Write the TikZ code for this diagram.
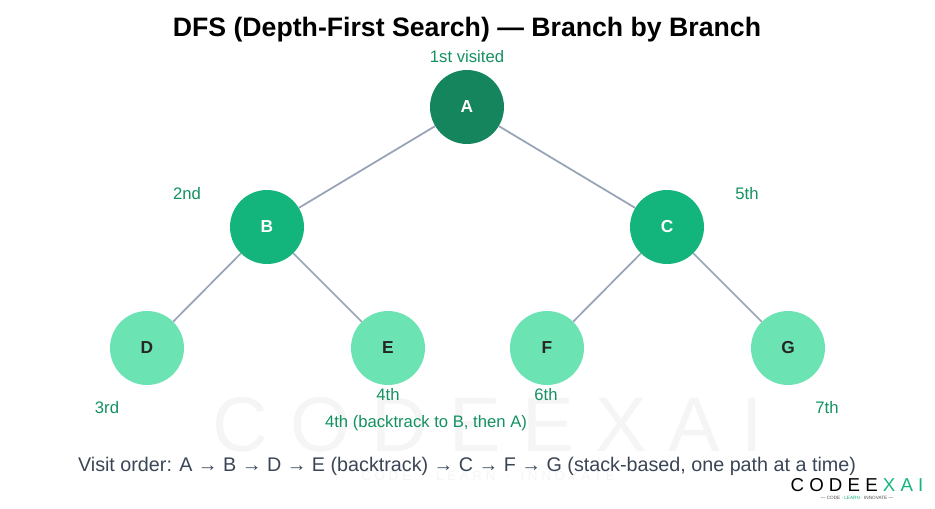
\documentclass[tikz,border=0pt]{standalone}
\usepackage{fontspec}
\setmainfont{Liberation Sans}
\usepackage{tikz}
\usetikzlibrary{positioning}
\definecolor{rootgreen}{HTML}{14855C}
\definecolor{midgreen}{HTML}{13B57D}
\definecolor{leafgreen}{HTML}{6BE3B3}
\definecolor{labgreen}{HTML}{139160}
\definecolor{edgegray}{HTML}{97A3B6}
\definecolor{textgray}{HTML}{3A4556}
\begin{document}
\begin{tikzpicture}[x=0.75pt,y=-0.75pt,
	vertex/.style={circle, minimum size=55.5pt, inner sep=0pt, font=\bfseries\fontsize{13}{15}\selectfont},
	root/.style={vertex, fill=rootgreen, text=white},
	mid/.style={vertex, fill=midgreen, text=white},
	leaf/.style={vertex, fill=leafgreen, text=black!85},
	lab/.style={font=\fontsize{12.5}{14}\selectfont, text=labgreen},
	link/.style={draw=edgegray, line width=1.3pt}
	]
	\useasboundingbox (0,0) rectangle (935,508);
	% watermark
	\node[text=black!4, font=\fontsize{58}{58}\selectfont] (wm) at (488,425) {C O D E E X A I};
	\node[text=black!4, font=\fontsize{10}{12}\selectfont] (wmtag) at (488,476) {C O D E \enspace · \enspace L E A R N \enspace · \enspace I N N O V A T E};
	% title
	\node[font=\bfseries\fontsize{20}{24}\selectfont] (title) at (467,30) {DFS (Depth-First Search) — Branch by Branch};
	% nodes
	\node[root] (A) at (467,107) {A};
	\node[mid] (B) at (267,227) {B};
	\node[mid] (C) at (667,227) {C};
	\node[leaf] (D) at (147,348) {D};
	\node[leaf] (E) at (388,348) {E};
	\node[leaf] (F) at (547,348) {F};
	\node[leaf] (G) at (788,348) {G};
	% edges
	\foreach \u/\v in {A/B,A/C,B/D,B/E,C/F,C/G}
		\path[link] (\u) -- (\v);
	% order labels
	\node[lab] (la) at (467,57) {1st visited};
	\node[lab] (lb) at (187,194) {2nd};
	\node[lab] (lc) at (747,194) {5th};
	\node[lab] (ld) at (107,408) {3rd};
	\node[lab] (le) at (388,395) {4th};
	\node[lab] (lf) at (546,395) {6th};
	\node[lab] (lg) at (827,408) {7th};
	\node[lab] (lback) at (426,423) {4th (backtrack to B, then A)};
	% footer
	\node[text=textgray, font=\fontsize{14.8}{17}\selectfont] (order) at (467,466)
		{Visit order: A → B → D → E (backtrack) → C → F → G (stack-based, one path at a time)};
	\node[font=\fontsize{14}{16}\selectfont] (logo) at (857,485) {C O D E E \textcolor{midgreen}{X A I}};
	\node[font=\fontsize{3.5}{4}\selectfont, text=black!70] (logotag) at (857,498) {— CODE · \textcolor{midgreen}{LEARN} · INNOVATE —};
\end{tikzpicture}
\end{document}
